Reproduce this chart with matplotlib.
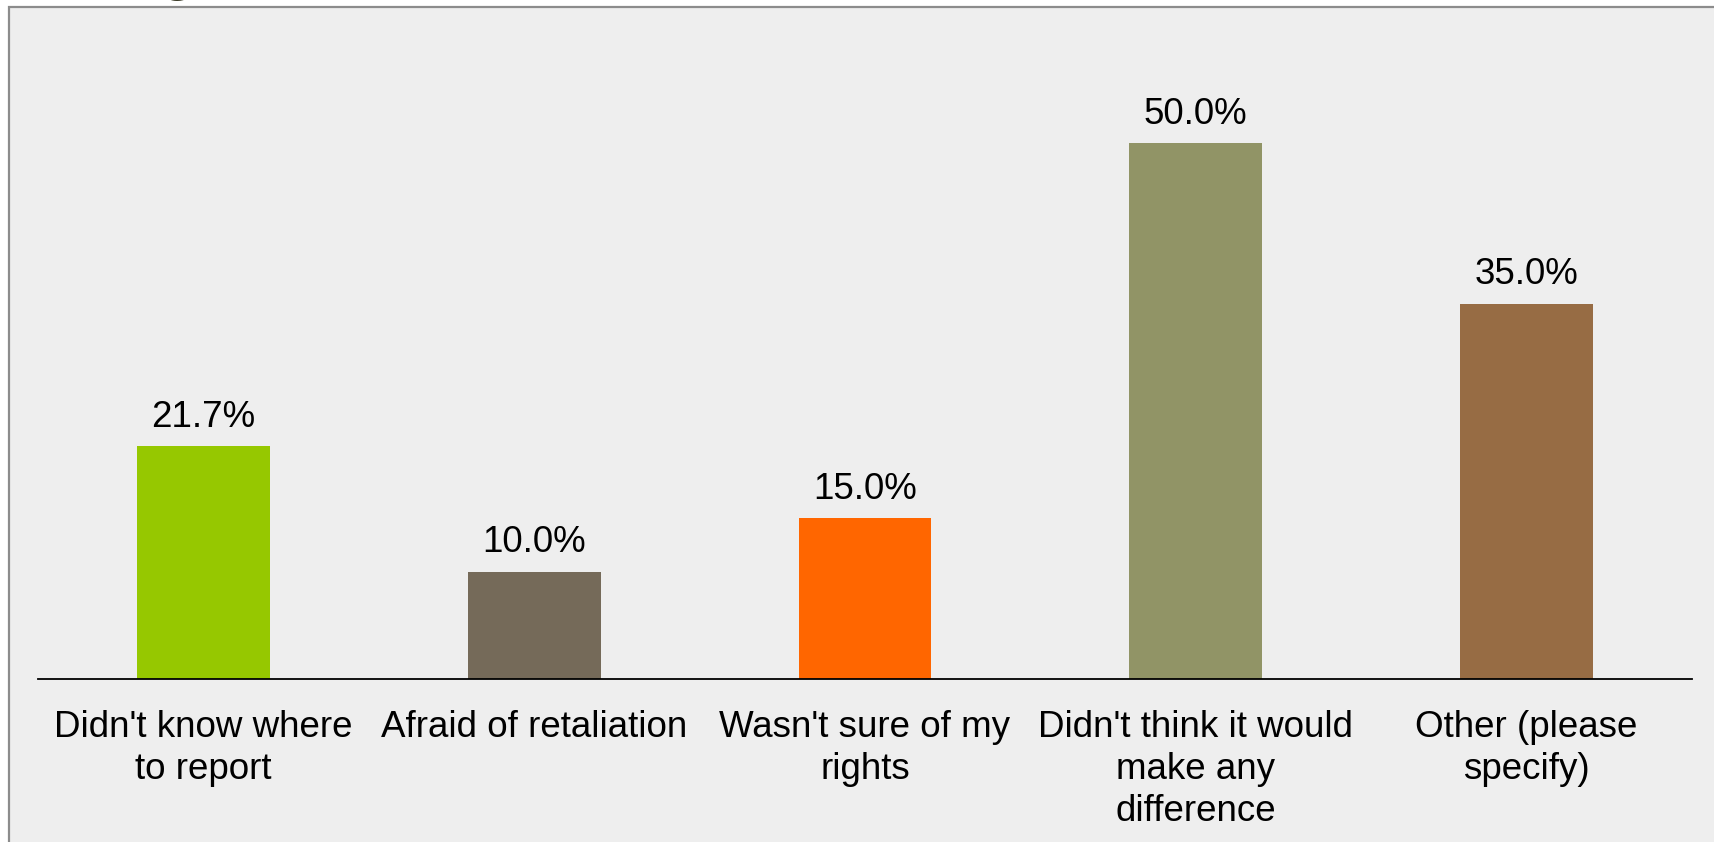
import matplotlib
matplotlib.use("Agg")
import matplotlib.pyplot as plt
from matplotlib.patches import Rectangle

categories = ["Didn't know where\nto report", "Afraid of retaliation",
              "Wasn't sure of my\nrights", "Didn't think it would\nmake any\ndifference",
              "Other (please\nspecify)"]
values = [21.7, 10.0, 15.0, 50.0, 35.0]
value_labels = ["21.7%", "10.0%", "15.0%", "50.0%", "35.0%"]
colors = ["#96C800", "#756A59", "#FF6600", "#919466", "#976C44"]

W, H = 1715, 842
fig = plt.figure(figsize=(W / 100, H / 100), dpi=100, facecolor="white")
plt.rcParams['font.family'] = ['Liberation Sans', 'DejaVu Sans']

# panel background
panel = Rectangle((9 / W, -0.05), 1.1, 1 - 7 / H + 0.05, transform=fig.transFigure,
                  facecolor="#EEEEEE", edgecolor="#8C8C8C", linewidth=1.6, zorder=-1)
fig.patches.append(panel)

# fragment of cut-off title
fig.text(161 / W, 1 + 11 / H, "g", fontsize=40, fontweight="bold", color="#3A3A26",
         ha="left", va="baseline")

ax_left = 38 / W
ax_right = 1692 / W
ax_bottom = 1 - 679 / H
ymax = 60
px_per_unit = (679 - 143) / 50.0
ax_height = ymax * px_per_unit / H
ax = fig.add_axes([ax_left, ax_bottom, ax_right - ax_left, ax_height])
ax.set_facecolor("none")
ax.set_zorder(1)

x = list(range(len(categories)))
ax.bar(x, values, width=0.402, color=colors, zorder=2)
ax.set_xlim(-0.5, len(categories) - 0.5)
ax.set_ylim(0, ymax)

for xi, v, lab in zip(x, values, value_labels):
    ax.annotate(lab, (xi, v), xytext=(0, 14), textcoords="offset points",
                ha="center", va="baseline", fontsize=26.5, color="black")

for s in ["top", "right", "left"]:
    ax.spines[s].set_visible(False)
ax.spines["bottom"].set_color("black")
ax.spines["bottom"].set_linewidth(1.3)
ax.set_yticks([])
ax.set_xticks(x)
ax.set_xticklabels(categories, fontsize=26.5, linespacing=1.26)
ax.tick_params(axis="x", length=0, pad=22)

fig.savefig("out.png", dpi=100, facecolor="white")
